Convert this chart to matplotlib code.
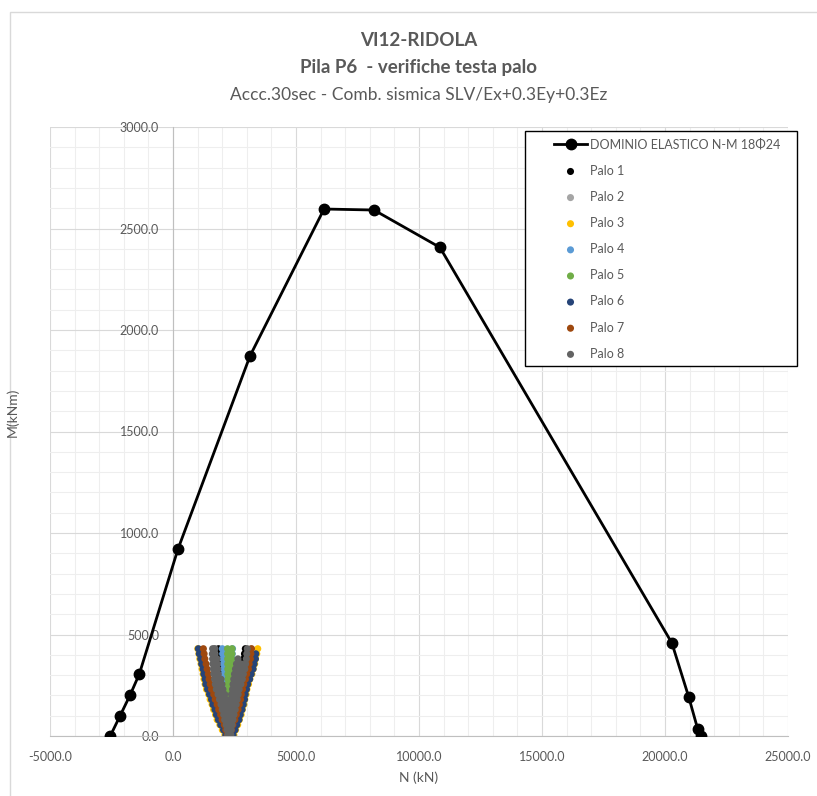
import matplotlib
matplotlib.use("Agg")
import matplotlib.pyplot as plt
from matplotlib.patches import Rectangle
from matplotlib.ticker import MultipleLocator, FormatStrFormatter

plt.rcParams['font.family'] = ['Lato', 'DejaVu Sans']

# interaction domain N-M (18 phi 24)
DOMAIN_N = [-2550, -2150, -1750, -1370, 200, 3130, 6140, 8170, 10850, 20280, 20970, 21330, 21450]
DOMAIN_M = [0, 100, 200, 305, 920, 1872, 2596, 2591, 2407, 458, 190, 34, 0]

# moment levels of the pile-head points (kNm)
M_LEVELS = [5, 30, 55, 80, 105, 130, 155, 180, 205, 230, 255, 280, 305, 330, 355, 380, 405, 430]

# N values (kN) read per moment level, left and right arm of each pile
P1_LEFT = [2230, 2205, 2180, 2150, 2125, 2100, 2070, 2045, 2020, 1990, 1965, 1945, 1920, 1900, 1880, 1870, 1860, 1850]
P1_RIGHT = [2330, 2370, 2405, 2440, 2480, 2515, 2550, 2585, 2620, 2655, 2690, 2725, 2760, 2800, 2835, 2870, 2905, 2940]
P2_LEFT = [2215, 2180, 2140, 2105, 2070, 2035, 2000, 1965, 1930, 1895, 1860, 1830, 1800, 1770, 1745, 1720, 1700, 1680]
P2_RIGHT = [2350, 2400, 2455, 2505, 2560, 2610, 2660, 2715, 2765, 2815, 2865, 2915, 2960, 3010, 3055, 3095, 3140, 3180]
P3_LEFT = [2110, 2005, 1905, 1795, 1730, 1650, 1590, 1510, 1450, 1360, 1305, 1260, 1225, 1180, 1140, 1090, 1050, 1005]
P3_RIGHT = [2475, 2545, 2630, 2700, 2770, 2820, 2885, 2920, 2970, 3005, 3070, 3125, 3205, 3260, 3320, 3355, 3405, 3445]
P4_LEFT = [2250, 2240, 2225, 2210, 2200, 2185, 2170, 2155, 2140, 2125, 2110, 2095, 2080, 2065, 2050, 2035, 2020, 2005]
P4_RIGHT = [2290, 2300, 2305, 2315, 2320, 2330, 2335, 2345, 2350, 2360, 2365, 2375, 2380, 2390, 2395, 2405, 2410, 2420]
P5_LEFT = [2265, 2262, 2258, 2256, 2252, 2250, 2246, 2244, 2240, 2238, 2235, 2232, 2230, 2226, 2224, 2220, 2218, 2215]
P5_RIGHT = [2285, 2292, 2300, 2305, 2312, 2320, 2326, 2333, 2340, 2346, 2354, 2360, 2367, 2374, 2380, 2388, 2394, 2400]
P6_LEFT = [2145, 2055, 1940, 1845, 1765, 1705, 1625, 1565, 1485, 1405, 1335, 1305, 1255, 1225, 1165, 1125, 1070, 1030]
P6_RIGHT = [2440, 2520, 2590, 2680, 2735, 2805, 2855, 2905, 2935, 2985, 3035, 3115, 3180, 3255, 3295, 3350, 3365]
P7_LEFT = [2210, 2145, 2085, 1995, 1935, 1855, 1795, 1715, 1655, 1565, 1515, 1465, 1435, 1385, 1345, 1295, 1265, 1235]
P7_RIGHT = [2300, 2375, 2435, 2515, 2575, 2645, 2695, 2745, 2775, 2825, 2875, 2945, 2995, 3065, 3095, 3145, 3165, 3190]
# pile 8 is a dense cloud: one row of N values per moment level
P8_ROWS = [
    [2230, 2290, 2350],
    [2200, 2280, 2360],
    [2160, 2250, 2340, 2400],
    [2100, 2190, 2280, 2370, 2440],
    [2060, 2150, 2240, 2330, 2420, 2480],
    [2000, 2090, 2180, 2270, 2360, 2450, 2530],
    [1950, 2040, 2130, 2220, 2310, 2400, 2490, 2570],
    [1890, 1980, 2070, 2160, 2340, 2430, 2520, 2610],
    [1830, 1920, 2010, 2100, 2380, 2470, 2560, 2650],
    [1760, 1850, 1940, 2030, 2420, 2510, 2600, 2690],
    [1720, 1810, 1900, 1990, 2440, 2530, 2620, 2710, 2760],
    [1690, 1780, 1870, 1950, 2470, 2570, 2670, 2760, 2820],
    [1660, 1750, 1840, 2500, 2620, 2740, 2860],
    [1640, 1730, 1820, 2540, 2700, 2880, 2920],
    [1620, 1710, 1800, 2580, 2780, 2950],
    [1610, 1700, 1790, 2640, 2980],
    [1600, 1690, 3000],
    [1610, 1700, 3020],
]

PILE_LABELS = ['Palo 1', 'Palo 2', 'Palo 3', 'Palo 4', 'Palo 5', 'Palo 6', 'Palo 7', 'Palo 8']
PILE_COLORS = ['#000000', '#A5A5A5', '#FFC000', '#5B9BD5', '#70AD47', '#264478', '#9E480E', '#636363']

TICK_GRAY = '#595959'


def arms_to_points(*arms):
    n_vals, m_vals = [], []
    for arm in arms:
        n_vals += list(arm)
        m_vals += M_LEVELS[:len(arm)]
    return n_vals, m_vals


def rows_to_points(rows):
    n_vals, m_vals = [], []
    for m, row in zip(M_LEVELS, rows):
        n_vals += row
        m_vals += [m] * len(row)
    return n_vals, m_vals


piles = [
    arms_to_points(P1_LEFT, P1_RIGHT),
    arms_to_points(P2_LEFT, P2_RIGHT),
    arms_to_points(P3_LEFT, P3_RIGHT),
    arms_to_points(P4_LEFT, P4_RIGHT),
    arms_to_points(P5_LEFT, P5_RIGHT),
    arms_to_points(P6_LEFT, P6_RIGHT),
    arms_to_points(P7_LEFT, P7_RIGHT),
    rows_to_points(P8_ROWS),
]

fig = plt.figure(figsize=(8.17, 7.96), dpi=100)
ax = fig.add_axes([50 / 817, 60 / 796, 738 / 817, 609 / 796])

# light outer frame of the chart area
fig.patches.append(Rectangle((10 / 817, -0.05), 1.2, 1 - 12 / 796 + 0.05, transform=fig.transFigure,
                             fill=False, edgecolor='#D9D9D9', linewidth=1))

ax.plot(DOMAIN_N, DOMAIN_M, color='black', linewidth=2, marker='o', markersize=7.5,
        label='DOMINIO ELASTICO N-M 18Φ24', zorder=3)

for (n_vals, m_vals), lab, col in zip(piles, PILE_LABELS, PILE_COLORS):
    ax.scatter(n_vals, m_vals, s=26, color=col, edgecolors='none', label=lab, zorder=4)

ax.set_xlim(-5000, 25000)
ax.set_ylim(0, 3000)
ax.xaxis.set_major_locator(MultipleLocator(5000))
ax.xaxis.set_minor_locator(MultipleLocator(1000))
ax.yaxis.set_major_locator(MultipleLocator(500))
ax.yaxis.set_minor_locator(MultipleLocator(100))
ax.xaxis.set_major_formatter(FormatStrFormatter('%.1f'))
ax.yaxis.set_major_formatter(FormatStrFormatter('%.1f'))
ax.grid(which='major', color='#D9D9D9', linewidth=0.8, zorder=0)
ax.grid(which='minor', color='#EEEEEE', linewidth=0.8, zorder=0)
ax.set_axisbelow(True)

for side in ['top', 'right']:
    ax.spines[side].set_visible(False)
ax.spines['left'].set_position(('data', 0))
ax.spines['left'].set_color('#BFBFBF')
ax.spines['bottom'].set_color('#BFBFBF')
ax.tick_params(which='both', length=0)
ax.tick_params(axis='x', pad=11, labelsize=9, labelcolor=TICK_GRAY)
ax.tick_params(axis='y', pad=10, labelsize=9, labelcolor=TICK_GRAY)

ax.set_xlabel('N (kN)', fontsize=10, color=TICK_GRAY, labelpad=6)
fig.text(12 / 817, 1 - 412 / 796, 'M(kNm)', rotation=90, fontsize=10, color=TICK_GRAY,
         ha='center', va='center')

fig.text(419 / 817, 1 - 40 / 796, 'VI12-RIDOLA', fontsize=13.5, fontweight='bold',
         color='#595959', ha='center', va='center')
fig.text(419 / 817, 1 - 67 / 796, 'Pila P6  - verifiche testa palo', fontsize=13.5, fontweight='bold',
         color='#595959', ha='center', va='center')
fig.text(419 / 817, 1 - 95 / 796, 'Accc.30sec - Comb. sismica SLV/Ex+0.3Ey+0.3Ez', fontsize=12.5,
         color='#595959', ha='center', va='center')

# legend box drawn separately so the entries can sit with a wide left margin
legend_box = Rectangle((525 / 817, 1 - 366 / 796), 272 / 817, 235 / 796, transform=fig.transFigure,
                       facecolor='white', edgecolor='black', linewidth=1, clip_on=False, zorder=4.5)
ax.add_patch(legend_box)
leg = ax.legend(loc='upper left', bbox_to_anchor=(548 / 817, 1 - 133 / 796),
                bbox_transform=fig.transFigure, borderaxespad=0, fontsize=9,
                labelcolor=TICK_GRAY, frameon=False, scatterpoints=1, handlelength=2.7,
                labelspacing=1.13, borderpad=0.45, handletextpad=0.2)
leg.set_zorder(5)

fig.savefig('out.png', dpi=100)
